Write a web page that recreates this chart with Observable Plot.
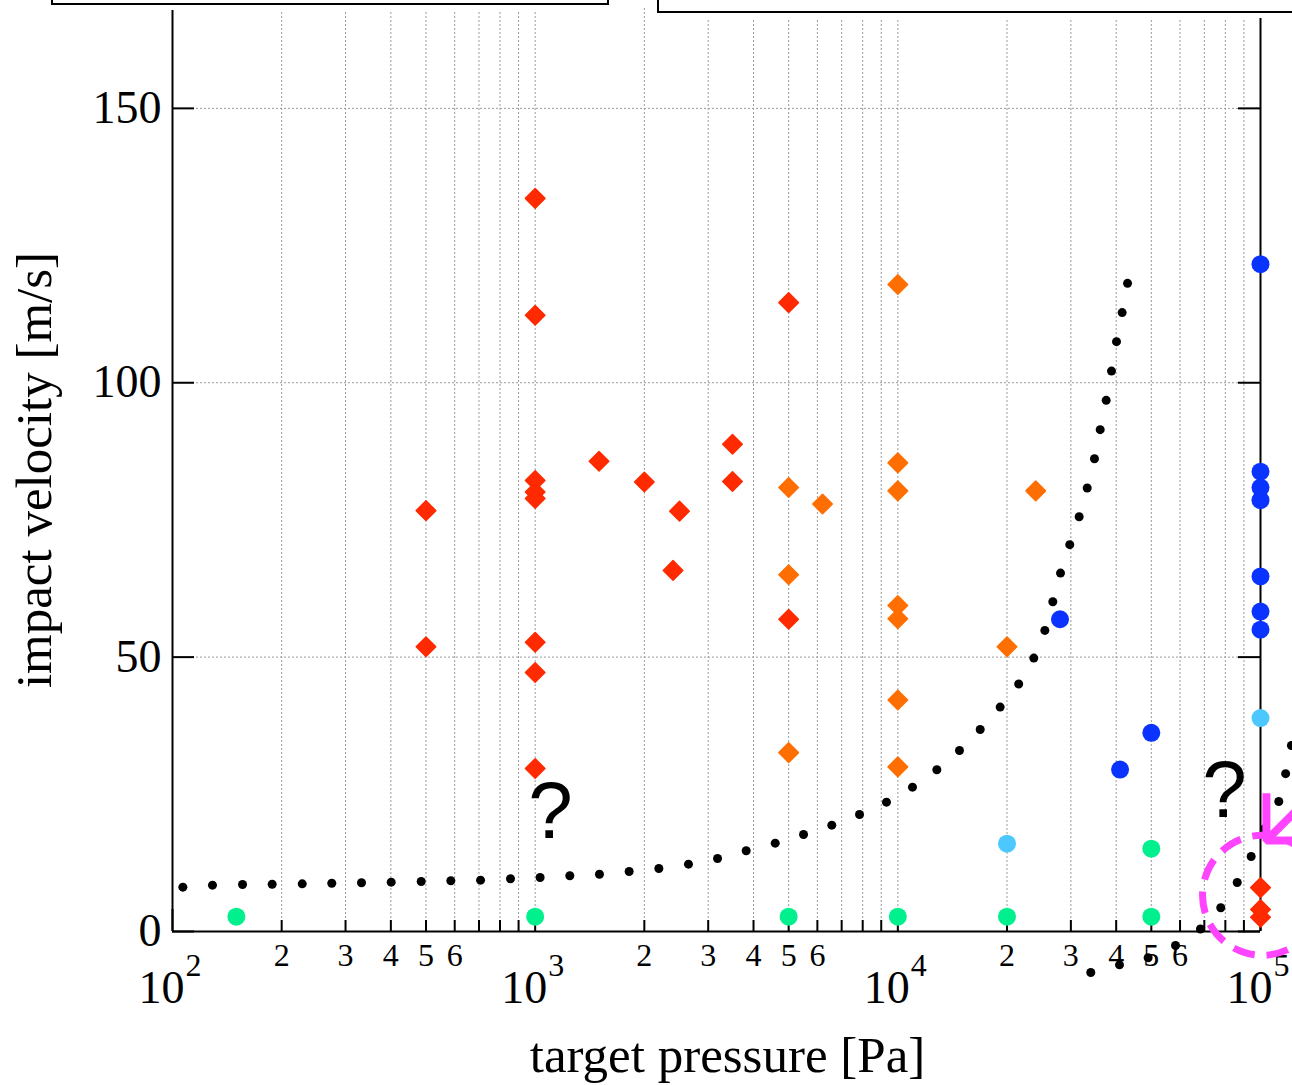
<!DOCTYPE html>
<html>
<head>
<meta charset="utf-8">
<script src="https://cdn.jsdelivr.net/npm/d3@7"></script>
<script src="https://cdn.jsdelivr.net/npm/@observablehq/plot@0.6"></script>
<style>
  html, body { margin: 0; padding: 0; background: #fff; }
  body { width: 1292px; height: 1085px; overflow: hidden; position: relative; }
  #chart { position: absolute; left: 0; top: 0; }
  .legbox { position: absolute; background: #fff; border: 2px solid #000; box-shadow: 0 5px 0 0 #fff; }
</style>
</head>
<body>
<div id="chart"></div>
<div class="legbox" style="left:51px; top:-40px; width:554px; height:41px;"></div>
<div class="legbox" style="left:657px; top:-40px; width:700px; height:49px;"></div>
<script>
// ---------------- data ----------------
// dotted model curve, first branch (pressure [Pa], velocity [m/s])
const curveP = [106.8,128.9,156,188.3,227.9,274.9,332,400.9,485,585.4,707,855,1032,1246,1504,1816,2193,2647,3183,3818,4591,5495,6575,7841,9305,10975,12810,14790,16870,19150,21540,23710,25430,26750,28090,29790,31620,33280,34850,36140,37540,38830,40080,41550,42990];
const curveV = [8.08,8.44,8.57,8.62,8.69,8.80,8.88,8.99,9.11,9.24,9.35,9.61,9.84,10.15,10.44,10.94,11.48,12.27,13.31,14.71,16.10,17.68,19.38,21.33,23.57,26.30,29.48,32.99,36.82,40.89,45.11,49.82,54.87,60.10,65.31,70.49,75.59,80.81,86.16,91.45,96.79,102.13,107.49,112.78,118.12];
// dotted model curve, second branch
const branch2P = [34040,40850,49000,58300,68300,77700,86250,94250,102700,112300,117300,121700];
const branch2V = [-7.47,-6.07,-4.79,-2.55,0.46,4.32,8.93,13.67,18.72,23.7,28.76,33.9];

// red diamonds
const redP = [500,500,1000,1000,1000,1000,1000,1000,1000,1000,1500,2000,2400,2500,3500,3500,5000,5000,100000,100000,100000];
const redV = [76.7,51.9,133.6,112.3,82.2,80.1,78.9,52.7,47.2,29.7,85.7,81.9,65.8,76.6,88.8,82.0,114.6,56.9,8.0,4.0,2.6];
// orange diamonds
const orangeP = [5000,5000,5000,6200,10000,10000,10000,10000,10000,10000,10000,20000,24000];
const orangeV = [80.9,65.0,32.6,77.9,117.9,85.4,80.3,59.4,57.0,42.2,30.0,51.9,80.3];
// blue circles
const blueP = [28000,41000,50000,100000,100000,100000,100000,100000,100000,100000];
const blueV = [56.9,29.5,36.2,121.6,83.8,80.9,78.6,64.7,58.3,55.0];
// light blue circles
const lightBlueP = [20000,100000];
const lightBlueV = [16.0,38.9];
// green circles
const greenP = [150,1000,5000,10000,20000,50000,50000];
const greenV = [2.7,2.7,2.7,2.7,2.7,2.7,15.1];

// annotations
const questionP = [1102,79560];
const questionV = [21.7,25.5];
const ringP = [101300];
const ringV = [6.6];
const arrowFromP = [196000], arrowFromV = [34.8];
const arrowToP = [103800], arrowToV = [16.6];

// axes
const yTicks = [0,50,100,150];
const yGrid = [50,100,150];
const decades = [100,1000,10000];
const minorLabels = [2,3,4,5,6];
const majorTicks = [100,1000,10000,100000];
const majorExp = ["2","3","4","5"];
const xTitle = ["target pressure [Pa]"];
const yTitle = ["impact velocity [m/s]"];

// colours
const C = {red:"#ff2a00", orange:"#ff6e00", blue:"#0b33ff", lightBlue:"#4cc8ff", green:"#00f08e", pink:"#ff44ff"};

// ---------------- layout ----------------
const W = 1292, H = 1085, mL = 172, mR = 32, mT = 8, mB = 154;
const yMax = 168.2;
const pxPerUnitY = (H - mT - mB) / yMax;
const pxPerDecade = (W - mL - mR) / 3;
const unitsY = px => px / pxPerUnitY;
const factorX = px => Math.pow(10, px / pxPerDecade);

const zip = (P, V) => P.map((p, i) => ({p, v: V[i]}));
const minorTicks = decades.flatMap(d => d3.range(2, 10).map(k => d * k));
const gridX = [...minorTicks, 1000, 10000];
const minorLabelRows = decades.flatMap(d => minorLabels.map(k => ({p: d * k, t: String(k)})));
const majorRows = majorTicks.map((p, i) => ({p, e: majorExp[i]}));

const serif = "'Liberation Serif', 'Times New Roman', serif";
const sans = "'Liberation Sans', Arial, sans-serif";
const dash = {stroke: "#9a9a9a", strokeWidth: 1, strokeDasharray: "2,2"};

const plot = Plot.plot({
  width: W, height: H,
  marginLeft: mL, marginRight: mR, marginTop: mT, marginBottom: mB,
  style: {background: "#fff", overflow: "visible"},
  x: {type: "log", domain: [100, 100000], axis: null},
  y: {domain: [0, yMax], axis: null},
  marks: [
    // grid
    Plot.ruleX(gridX, {...dash}),
    Plot.ruleY(yGrid, {...dash}),
    // frame
    Plot.ruleX([100, 100000], {stroke: "#000", strokeWidth: 2}),
    Plot.ruleY([0], {stroke: "#000", strokeWidth: 2}),
    // inward ticks
    Plot.ruleX(minorTicks, {y1: 0, y2: unitsY(11), stroke: "#000", strokeWidth: 2}),
    Plot.ruleX(majorTicks, {y1: 0, y2: unitsY(22), stroke: "#000", strokeWidth: 2}),
    Plot.ruleY(yTicks, {x1: 100, x2: 100 * factorX(22), stroke: "#000", strokeWidth: 2}),
    Plot.ruleY(yTicks, {x1: 100000 / factorX(22), x2: 100000, stroke: "#000", strokeWidth: 2}),
    // tick labels
    Plot.text(yTicks, {x: 100, y: d => d, text: d => String(d), textAnchor: "end", dx: -11, fontSize: 46, fontFamily: serif, fill: "#000"}),
    Plot.text(minorLabelRows, {x: "p", y: 0, text: "t", lineAnchor: "bottom", dy: 34, fontSize: 32, fontFamily: serif, fill: "#000"}),
    Plot.text(majorRows, {x: "p", y: 0, text: () => "10", textAnchor: "end", lineAnchor: "bottom", dx: 12, dy: 71, fontSize: 46, fontFamily: serif, fill: "#000"}),
    Plot.text(majorRows, {x: "p", y: 0, text: "e", textAnchor: "start", lineAnchor: "bottom", dx: 13, dy: 44, fontSize: 32, fontFamily: serif, fill: "#000"}),
    // axis titles
    Plot.text(xTitle, {frameAnchor: "bottom", text: d => d, textAnchor: "middle", lineAnchor: "bottom", dx: 11, dy: 140, fontSize: 51, fontFamily: serif, fill: "#000"}),
    Plot.text(yTitle, {frameAnchor: "left", text: d => d, rotate: -90, textAnchor: "middle", lineAnchor: "bottom", dx: -122, fontSize: 51, fontFamily: serif, fill: "#000"}),
    // model curve
    Plot.dot(zip(curveP, curveV), {x: "p", y: "v", r: 4.5, fill: "#000"}),
    Plot.dot(zip(branch2P, branch2V), {x: "p", y: "v", r: 4.5, fill: "#000"}),
    // experiments
    Plot.dot(zip(greenP, greenV), {x: "p", y: "v", r: 9, fill: C.green}),
    Plot.dot(zip(lightBlueP, lightBlueV), {x: "p", y: "v", r: 9, fill: C.lightBlue}),
    Plot.dot(zip(blueP, blueV), {x: "p", y: "v", r: 9, fill: C.blue}),
    Plot.dot(zip(orangeP, orangeV), {x: "p", y: "v", r: 8.8, symbol: "diamond2", fill: C.orange, stroke: C.orange, strokeWidth: 1.5, strokeLinejoin: "round"}),
    Plot.dot(zip(redP, redV), {x: "p", y: "v", r: 8.8, symbol: "diamond2", fill: C.red, stroke: C.red, strokeWidth: 1.5, strokeLinejoin: "round"}),
    // annotations
    Plot.dot(zip(ringP, ringV), {x: "p", y: "v", r: 60, fill: "none", stroke: C.pink, strokeWidth: 7, strokeDasharray: "22,12"}),
    Plot.arrow([0], {x1: () => arrowFromP[0], y1: () => arrowFromV[0], x2: () => arrowToP[0], y2: () => arrowToV[0], stroke: C.pink, strokeWidth: 8, headLength: 50, headAngle: 90, strokeLinejoin: "miter", strokeLinecap: "butt"}),
    Plot.text(zip(questionP, questionV), {x: "p", y: "v", text: () => "?", fontSize: 80, fontFamily: sans, fill: "#000"})
  ]
});
document.getElementById("chart").appendChild(plot);
</script>
</body>
</html>
